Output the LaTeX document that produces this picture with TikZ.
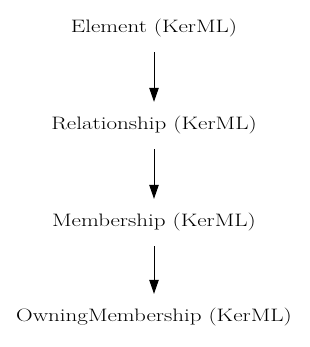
\documentclass[tikz,border=0pt]{standalone}
\usetikzlibrary{arrows.meta}
\newcommand{\wide}[1]{\scalebox{1.28}[1]{#1}}
\begin{document}
\begin{tikzpicture}[x=1pt,y=1pt,
  box/.style={anchor=base,inner xsep=0pt,inner ysep=14pt,text height=12pt,text depth=4pt,font=\fontsize{18}{21}\selectfont},
  link/.style={-{Triangle[length=14pt,width=9.5pt]},line width=0.9pt,shorten <=1pt,shorten >=2pt}]
\useasboundingbox (0,0) rectangle (309,347);
\node[box] (a) at (154,314) {\wide{Element (KerML)}};
\node[box] (b) at (154,217) {\wide{Relationship (KerML)}};
\node[box] (c) at (154,120) {\wide{Membership (KerML)}};
\node[box] (d) at (154,25) {\wide{OwningMembership (KerML)}};
\draw[link] (a) -- (b);
\draw[link] (b) -- (c);
\draw[link] (c) -- (d);
\end{tikzpicture}
\end{document}
